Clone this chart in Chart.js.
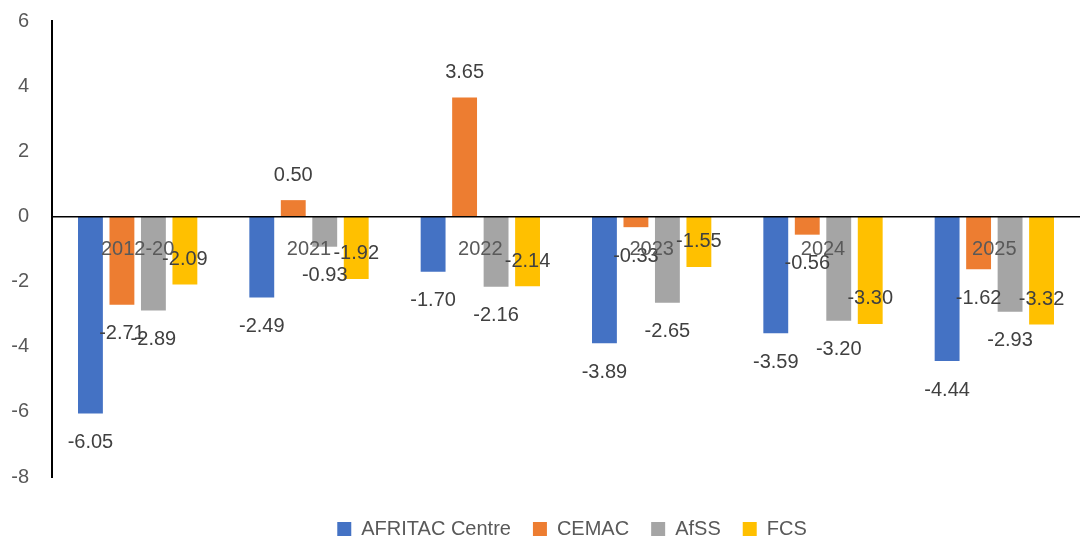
<!DOCTYPE html>
<html>
<head>
<meta charset="utf-8">
<script src="https://cdn.jsdelivr.net/npm/chart.js@4.4.1/dist/chart.umd.min.js"></script>
<style>
  html, body { margin: 0; padding: 0; background: #fff; }
  #wrap { width: 1080px; height: 538px; }
</style>
</head>
<body>
<div id="wrap"><canvas id="chart" width="1080" height="538"></canvas></div>
<script>
// Chart data
const categories = ['2012-20', '2021', '2022', '2023', '2024', '2025'];
const afritacCentre = [-6.05, -2.49, -1.70, -3.89, -3.59, -4.44];
const cemac = [-2.71, 0.50, 3.65, -0.33, -0.56, -1.62];
const afss = [-2.89, -0.93, -2.16, -2.65, -3.20, -2.93];
const fcs = [-2.09, -1.92, -2.14, -1.55, -3.30, -3.32];
const yTicks = [-8, -6, -4, -2, 0, 2, 4, 6];

const FONT = '"Liberation Sans", Arial, sans-serif';

// Value labels: outside the bar end, except FCS which sits just inside the end
const valueLabels = {
    id: 'valueLabels',
    afterDatasetsDraw(chart) {
        const ctx = chart.ctx;
        ctx.save();
        ctx.font = '20px ' + FONT;
        ctx.fillStyle = '#404040';
        ctx.textAlign = 'center';
        ctx.textBaseline = 'middle';
        chart.data.datasets.forEach((ds, i) => {
            const meta = chart.getDatasetMeta(i);
            meta.data.forEach((bar, j) => {
                const v = ds.data[j];
                let y;
                if (v >= 0 || ds.labelInside) {
                    y = bar.y - 25;
                } else {
                    y = bar.y + 29;
                }
                ctx.fillText(v.toFixed(2), bar.x, y);
            });
        });
        ctx.restore();
    }
};

// Move the legend down and centre it under the plot area, like the original
const legendShift = {
    id: 'legendShift',
    afterLayout(chart) {
        const lg = chart.legend;
        if (lg) {
            lg.top += 20;
            lg.bottom += 20;
            lg.left += 32;
            lg.right += 32;
        }
    }
};

const ctx = document.getElementById('chart').getContext('2d');
const chart = new Chart(ctx, {
    type: 'bar',
    data: {
        labels: categories,
        datasets: [
            { label: 'AFRITAC Centre', data: afritacCentre, backgroundColor: '#4472C4' },
            { label: 'CEMAC', data: cemac, backgroundColor: '#ED7D31' },
            { label: 'AfSS', data: afss, backgroundColor: '#A5A5A5' },
            { label: 'FCS', data: fcs, backgroundColor: '#FFC000', labelInside: true }
        ]
    },
    options: {
        responsive: false,
        animation: false,
        categoryPercentage: 0.735,
        barPercentage: 0.79,
        layout: { padding: { left: 0, right: 0, top: 21, bottom: 9 } },
        plugins: {
            legend: {
                position: 'bottom',
                labels: {
                    boxWidth: 14,
                    boxHeight: 14,
                    padding: 22,
                    color: '#595959',
                    font: { family: FONT, size: 20 }
                }
            },
            tooltip: { enabled: false }
        },
        scales: {
            x: {
                position: { y: 0 },
                grid: { display: false, drawTicks: false },
                border: { color: '#000000', width: 1.5, z: 1 },
                ticks: {
                    z: 1,
                    padding: 21,
                    color: '#595959',
                    font: { family: FONT, size: 20 }
                }
            },
            y: {
                min: -8,
                max: 6,
                afterFit(scale) {
                    scale.width = 52;
                    scale.paddingTop = 0;
                    scale.paddingBottom = 0;
                },
                afterBuildTicks(scale) { scale.ticks = yTicks.map(v => ({ value: v })); },
                grid: { display: false, drawTicks: false },
                border: { color: '#000000', width: 2 },
                ticks: {
                    padding: 23,
                    color: '#595959',
                    font: { family: FONT, size: 20 }
                }
            }
        }
    },
    plugins: [valueLabels, legendShift]
});
</script>
</body>
</html>
